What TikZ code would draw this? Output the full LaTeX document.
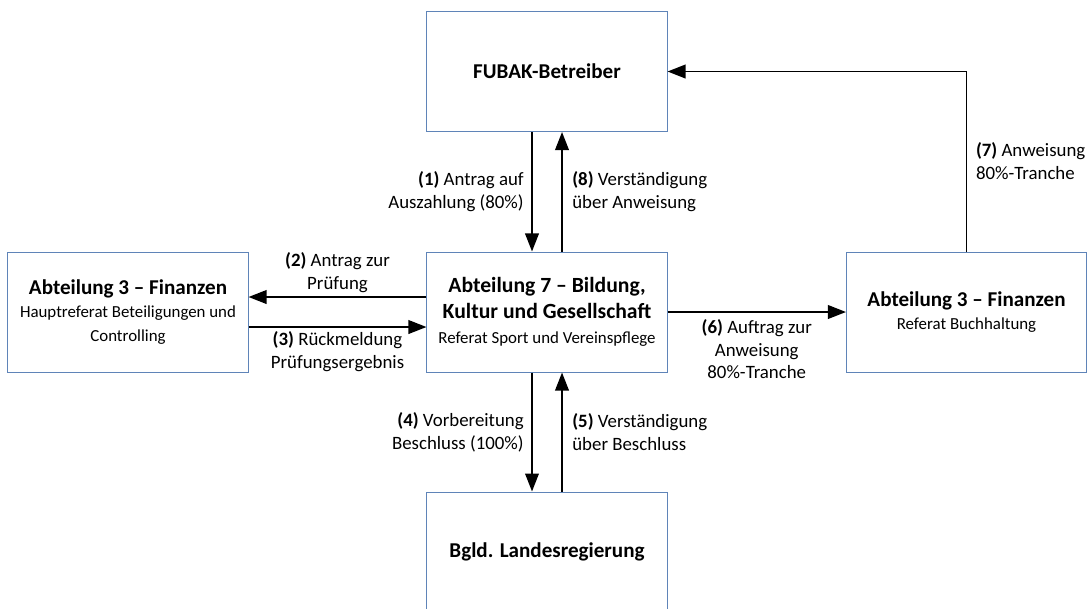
\documentclass[tikz,border=0pt]{standalone}
\usepackage{fontspec}
\setmainfont{Carlito}
\usetikzlibrary{arrows.meta}
\usepackage{xcolor}
\definecolor{boxblue}{HTML}{5F84B8}
\newcommand{\ttlfont}{\fontsize{15}{16.8}\selectfont\bfseries}
\newcommand{\subfont}{\fontsize{12}{16.8}\selectfont}

\begin{document}
\begin{tikzpicture}[x=0.025cm,y=-0.025cm,
    box/.style={draw=boxblue,line width=0.7pt,minimum width=6cm,minimum height=3cm,align=center,inner sep=2pt,font=\subfont},
    arr/.style={-{Triangle[length=0.45cm,width=0.34cm]},line width=1.3pt},
    lbl/.style={font=\fontsize{13.4}{16.3}\selectfont,inner sep=1pt}]
        \useasboundingbox (0,0) rectangle (1089,608);
        % boxes
        \node[box] (fubak) at (547,71.5) {\ttlfont FUBAK-Betreiber};
        \node[box,font=\fontsize{12}{18.2}\selectfont] (abt7) at (547,312) {\fontsize{15.4}{18.2}\selectfont\bfseries Abteilung 7 -- Bildung,\\
            \fontsize{15.4}{18.2}\selectfont\bfseries Kultur und Gesellschaft\\
            \subfont Referat Sport und Vereinspflege};
        \node[box] (abt3hr) at (128,312) {\ttlfont Abteilung 3 -- Finanzen\\
            \subfont Hauptreferat Beteiligungen und\\
            \subfont Controlling};
        \node[box] (abt3bh) at (966.5,312) {\ttlfont Abteilung 3 -- Finanzen\\
            \subfont Referat Buchhaltung};
        \node[box] (landes) at (547,552) {\ttlfont Bgld. Landesregierung};
        % connectors
        \draw[arr] ([xshift=-0.375cm]fubak.south) -- ([xshift=-0.375cm]abt7.north)
            node[midway,left=0.15cm,lbl,align=right] {\textbf{(1)} Antrag auf\\Auszahlung (80\%)};
        \draw[arr] ([xshift=0.375cm]abt7.north) -- ([xshift=0.375cm]fubak.south)
            node[midway,right=0.2cm,lbl,align=left] {\textbf{(8)} Verständigung\\über Anweisung};
        \draw[arr] ([yshift=0.375cm]abt7.west) -- ([yshift=0.375cm]abt3hr.east)
            node[midway,above=0.05cm,lbl,align=center] {\textbf{(2)} Antrag zur\\Prüfung};
        \draw[arr] ([yshift=-0.375cm]abt3hr.east) -- ([yshift=-0.375cm]abt7.west)
            node[midway,below=0.05cm,lbl,align=center] {\textbf{(3)} Rückmeldung\\Prüfungsergebnis};
        \draw[arr] (abt7.east) -- (abt3bh.west)
            node[midway,below=0.12cm,lbl,align=center] {\textbf{(6)} Auftrag zur\\Anweisung\\80\%-Tranche};
        \draw[arr] (abt3bh.north) |- (fubak.east)
            node[pos=0.25,right=0.18cm,lbl,align=left] {\textbf{(7)} Anweisung\\80\%-Tranche};
        \draw[arr] ([xshift=-0.375cm]abt7.south) -- ([xshift=-0.375cm]landes.north)
            node[midway,left=0.15cm,lbl,align=right] {\textbf{(4)} Vorbereitung\\Beschluss (100\%)};
        \draw[arr] ([xshift=0.375cm]landes.north) -- ([xshift=0.375cm]abt7.south)
            node[midway,right=0.2cm,lbl,align=left] {\textbf{(5)} Verständigung\\über Beschluss};
    \end{tikzpicture}
\end{document}
